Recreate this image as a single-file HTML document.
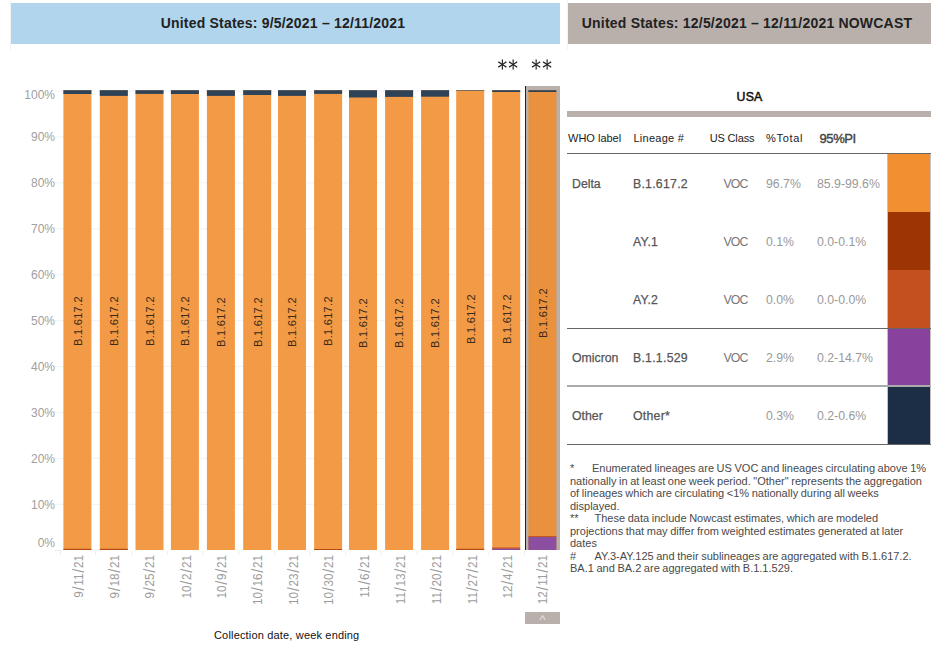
<!DOCTYPE html>
<html><head><meta charset="utf-8"><title>US Variant Proportions</title>
<style>
html,body{margin:0;padding:0;background:#fff;}
body{width:942px;height:646px;overflow:hidden;position:relative;font-family:"Liberation Sans",Arial,sans-serif;}
.a{position:absolute;}
.hdr{position:absolute;top:3px;height:41px;line-height:40px;text-align:center;font-weight:bold;font-size:14px;color:#222;white-space:nowrap;letter-spacing:0.2px;box-sizing:border-box;padding-right:5px;}
.grid{position:absolute;left:55px;width:505px;height:1px;background:#f0f0f0;}
.yl{position:absolute;width:40px;left:15px;text-align:right;font-size:12px;color:#a0a0a0;line-height:12px;}
.bar{position:absolute;width:28px;}
.ast{position:absolute;top:57px;font-family:"WenQuanYi Zen Hei","Liberation Sans",sans-serif;font-size:22px;line-height:22px;letter-spacing:-2.4px;color:#222;transform:scaleY(1.1);white-space:nowrap;}
.bl{position:absolute;white-space:nowrap;font-size:11px;letter-spacing:0.3px;color:#3a2a1a;transform:rotate(-90deg);transform-origin:0 0;line-height:12px;}
.xl{position:absolute;white-space:nowrap;font-size:13.5px;color:#9c9c9c;transform:rotate(-90deg) scaleX(0.87);transform-origin:100% 0;text-align:right;line-height:13px;}
.sl{font-size:17px;margin:0 0.75px;position:relative;top:1px;}
.tick{position:absolute;width:1px;height:5px;top:550px;background:#ececec;}
.th{position:absolute;top:131px;font-size:11px;color:#222;white-space:nowrap;line-height:14px;}
.td{position:absolute;font-size:12.3px;color:#555;white-space:nowrap;line-height:14px;}
.tl{position:absolute;left:567px;width:364px;height:1px;background:#666;}
.sw{position:absolute;left:888px;width:42px;height:58px;}
.fn{position:absolute;left:570px;top:462.3px;width:365px;font-size:11px;line-height:12.52px;color:#4a4a4a;word-spacing:-0.45px;white-space:nowrap;}
.mk{display:inline-block;}
</style></head><body>

<div class="a" style="left:10px;top:0;width:1px;height:50px;background:#f3f3f3"></div>
<div class="a" style="left:567px;top:0;width:1px;height:50px;background:#f3f3f3"></div>
<div class="hdr" style="left:11px;width:549px;background:#b0d5ec;">United States: 9/5/2021 &ndash; 12/11/2021</div>
<div class="hdr" style="left:568px;width:363px;background:#b9b0ab;">United States: 12/5/2021 &ndash; 12/11/2021 NOWCAST</div>
<div class="ast" style="left:495.7px;">**</div>
<div class="ast" style="left:529.6px;">**</div>
<div class="yl" style="top:536.5px">0%</div>
<div class="yl" style="top:498.7px">10%</div>
<div class="yl" style="top:452.8px">20%</div>
<div class="yl" style="top:406.9px">30%</div>
<div class="yl" style="top:361.0px">40%</div>
<div class="yl" style="top:315.1px">50%</div>
<div class="yl" style="top:269.1px">60%</div>
<div class="yl" style="top:223.2px">70%</div>
<div class="yl" style="top:177.3px">80%</div>
<div class="yl" style="top:131.4px">90%</div>
<div class="yl" style="top:88.6px">100%</div>
<svg class="a" style="left:0;top:0" width="942" height="646" viewBox="0 0 942 646"><rect x="55" y="503.79" width="505" height="1" fill="#f2f2f2"/><rect x="55" y="457.88" width="505" height="1" fill="#f2f2f2"/><rect x="55" y="411.97" width="505" height="1" fill="#f2f2f2"/><rect x="55" y="366.06" width="505" height="1" fill="#f2f2f2"/><rect x="55" y="320.15" width="505" height="1" fill="#f2f2f2"/><rect x="55" y="274.24" width="505" height="1" fill="#f2f2f2"/><rect x="55" y="228.33" width="505" height="1" fill="#f2f2f2"/><rect x="55" y="182.42" width="505" height="1" fill="#f2f2f2"/><rect x="55" y="136.51" width="505" height="1" fill="#f2f2f2"/><rect x="55" y="90.60" width="505" height="1" fill="#f2f2f2"/><rect x="55" y="550" width="6" height="1" fill="#ececec"/><rect x="60" y="550" width="1" height="5" fill="#ececec"/><rect x="526" y="86" width="34" height="464" fill="#b9b0ab"/><rect x="525" y="86" width="1" height="464" fill="#222"/><rect x="63.4" y="90.2" width="28.0" height="459.80" fill="#f29a45"/><rect x="63.4" y="90.2" width="28.0" height="3.80" fill="#2f4358"/><rect x="63.4" y="548.80" width="28.0" height="1.2" fill="#b5470f"/><rect x="99.8" y="90.2" width="28.0" height="459.80" fill="#f29a45"/><rect x="99.8" y="90.2" width="28.0" height="5.70" fill="#2f4358"/><rect x="99.8" y="548.80" width="28.0" height="1.2" fill="#b5470f"/><rect x="95.1" y="551" width="1" height="4" fill="#eeeeee"/><rect x="135.5" y="90.2" width="28.0" height="459.80" fill="#f29a45"/><rect x="135.5" y="90.2" width="28.0" height="3.70" fill="#2f4358"/><rect x="131.2" y="551" width="1" height="4" fill="#eeeeee"/><rect x="170.9" y="90.2" width="28.0" height="459.80" fill="#f29a45"/><rect x="170.9" y="90.2" width="28.0" height="3.80" fill="#2f4358"/><rect x="166.7" y="551" width="1" height="4" fill="#eeeeee"/><rect x="206.9" y="90.2" width="28.0" height="459.80" fill="#f29a45"/><rect x="206.9" y="90.2" width="28.0" height="5.70" fill="#2f4358"/><rect x="202.4" y="551" width="1" height="4" fill="#eeeeee"/><rect x="243.2" y="90.2" width="28.0" height="459.80" fill="#f29a45"/><rect x="243.2" y="90.2" width="28.0" height="4.80" fill="#2f4358"/><rect x="238.6" y="551" width="1" height="4" fill="#eeeeee"/><rect x="278.0" y="90.2" width="28.0" height="459.80" fill="#f29a45"/><rect x="278.0" y="90.2" width="28.0" height="5.70" fill="#2f4358"/><rect x="274.1" y="551" width="1" height="4" fill="#eeeeee"/><rect x="314.1" y="90.2" width="28.0" height="459.80" fill="#f29a45"/><rect x="314.1" y="90.2" width="28.0" height="3.70" fill="#2f4358"/><rect x="314.1" y="549.00" width="28.0" height="1.0" fill="#b5470f"/><rect x="309.6" y="551" width="1" height="4" fill="#eeeeee"/><rect x="349.0" y="90.2" width="28.0" height="459.80" fill="#f29a45"/><rect x="349.0" y="90.2" width="28.0" height="7.30" fill="#2f4358"/><rect x="345.1" y="551" width="1" height="4" fill="#eeeeee"/><rect x="385.1" y="90.2" width="28.0" height="459.80" fill="#f29a45"/><rect x="385.1" y="90.2" width="28.0" height="6.70" fill="#2f4358"/><rect x="380.6" y="551" width="1" height="4" fill="#eeeeee"/><rect x="421.1" y="90.2" width="28.0" height="459.80" fill="#f29a45"/><rect x="421.1" y="90.2" width="28.0" height="6.50" fill="#2f4358"/><rect x="416.6" y="551" width="1" height="4" fill="#eeeeee"/><rect x="456.2" y="90.2" width="28.0" height="459.80" fill="#f29a45"/><rect x="456.2" y="90.2" width="28.0" height="0.60" fill="#2f4358"/><rect x="456.2" y="548.80" width="28.0" height="1.2" fill="#b5470f"/><rect x="452.1" y="551" width="1" height="4" fill="#eeeeee"/><rect x="492.2" y="90.2" width="28.0" height="459.80" fill="#f29a45"/><rect x="492.2" y="90.2" width="28.0" height="1.80" fill="#2f4358"/><rect x="492.2" y="548.40" width="28.0" height="1.6" fill="#8b47a2"/><rect x="492.2" y="547.50" width="28.0" height="0.9" fill="#bd4c1a"/><rect x="487.7" y="551" width="1" height="4" fill="#eeeeee"/><rect x="528.4" y="90.2" width="28.0" height="459.80" fill="#ea913d"/><rect x="528.4" y="90.2" width="28.0" height="1.80" fill="#2f4358"/><rect x="528.4" y="537" width="28.0" height="13" fill="#8b4ea0"/><rect x="528.4" y="536" width="28.0" height="1" fill="#c4561f"/><rect x="524" y="551" width="1" height="4" fill="#eeeeee"/></svg>
<div class="bl" style="left:71.7px;top:345.5px">B.1.617.2</div>
<div class="xl" style="right:870.8px;top:554.9px;">9<span class="sl">/</span>11<span class="sl">/</span>21</div>
<div class="bl" style="left:108.1px;top:346.4px">B.1.617.2</div>
<div class="xl" style="right:835.3px;top:554.9px;">9<span class="sl">/</span>18<span class="sl">/</span>21</div>
<div class="bl" style="left:143.8px;top:346.1px">B.1.617.2</div>
<div class="xl" style="right:799.6px;top:554.9px;">9<span class="sl">/</span>25<span class="sl">/</span>21</div>
<div class="bl" style="left:179.2px;top:346.1px">B.1.617.2</div>
<div class="xl" style="right:763.3px;top:554.9px;">10<span class="sl">/</span>2<span class="sl">/</span>21</div>
<div class="bl" style="left:215.2px;top:347.1px">B.1.617.2</div>
<div class="xl" style="right:728.1px;top:554.9px;">10<span class="sl">/</span>9<span class="sl">/</span>21</div>
<div class="bl" style="left:251.5px;top:346.6px">B.1.617.2</div>
<div class="xl" style="right:692.1px;top:554.9px;">10<span class="sl">/</span>16<span class="sl">/</span>21</div>
<div class="bl" style="left:286.3px;top:347.1px">B.1.617.2</div>
<div class="xl" style="right:656.4px;top:554.9px;">10<span class="sl">/</span>23<span class="sl">/</span>21</div>
<div class="bl" style="left:322.4px;top:345.6px">B.1.617.2</div>
<div class="xl" style="right:621.3px;top:554.9px;">10<span class="sl">/</span>30<span class="sl">/</span>21</div>
<div class="bl" style="left:357.3px;top:347.9px">B.1.617.2</div>
<div class="xl" style="right:585.3px;top:554.9px;">11<span class="sl">/</span>6<span class="sl">/</span>21</div>
<div class="bl" style="left:393.4px;top:347.6px">B.1.617.2</div>
<div class="xl" style="right:549.2px;top:554.9px;">11<span class="sl">/</span>13<span class="sl">/</span>21</div>
<div class="bl" style="left:429.4px;top:347.5px">B.1.617.2</div>
<div class="xl" style="right:513.7px;top:554.9px;">11<span class="sl">/</span>20<span class="sl">/</span>21</div>
<div class="bl" style="left:464.5px;top:343.9px">B.1.617.2</div>
<div class="xl" style="right:477.8px;top:554.9px;">11<span class="sl">/</span>27<span class="sl">/</span>21</div>
<div class="bl" style="left:500.5px;top:343.9px">B.1.617.2</div>
<div class="xl" style="right:441.8px;top:554.9px;">12<span class="sl">/</span>4<span class="sl">/</span>21</div>
<div class="bl" style="left:536.7px;top:338.1px">B.1.617.2</div>
<div class="xl" style="right:407.0px;top:554.9px;">12<span class="sl">/</span>11<span class="sl">/</span>21</div>
<div class="a" style="left:214px;top:628px;font-size:11px;color:#111;white-space:nowrap;line-height:14px;letter-spacing:0.17px;">Collection date, week ending</div>
<div class="a" style="left:525px;top:612px;width:35px;height:12px;background:#b9b0ab;color:#e6e2e0;font-size:13px;line-height:15px;text-align:center;overflow:hidden;">^</div>
<div class="a" style="left:736.6px;top:90.2px;font-size:12.3px;color:#111;line-height:14px;-webkit-text-stroke:0.5px #111;letter-spacing:0.2px;">USA</div>
<div class="a" style="left:567px;top:111px;width:364px;height:6px;background:#b9b0ab"></div>
<div class="th" style="left:568px">WHO label</div>
<div class="th" style="left:633.5px;letter-spacing:0.25px">Lineage #</div>
<div class="th" style="left:709.7px;letter-spacing:-0.15px">US Class</div>
<div class="th" style="left:766px;letter-spacing:0.7px">%Total</div>
<div class="th" style="left:819.5px;font-size:13px;color:#444;top:131.9px;-webkit-text-stroke:0.4px #444;letter-spacing:-0.4px">95%PI</div>
<div class="tl" style="top:153px;"></div>
<div class="a" style="left:887px;top:154px;width:44px;height:290px;background:#c4c0bf"></div>
<div class="sw" style="top:154px;background:#f28f30"></div>
<div class="sw" style="top:212px;background:#9c3503"></div>
<div class="sw" style="top:270px;background:#c4501f"></div>
<div class="sw" style="top:328px;background:#88419d"></div>
<div class="sw" style="top:386px;background:#1b2e45"></div>
<div class="td" style="left:572px;top:176.5px;-webkit-text-stroke:0.25px #555">Delta</div>
<div class="td" style="left:633px;top:176.5px;letter-spacing:0.25px;-webkit-text-stroke:0.25px #555">B.1.617.2</div>
<div class="td" style="left:723.5px;top:176.5px;color:#777;letter-spacing:-0.9px">VOC</div>
<div class="td" style="left:766px;top:176.5px;color:#999;">96.7%</div>
<div class="td" style="left:817px;top:176.5px;color:#999;">85.9-99.6%</div>
<div class="td" style="left:633px;top:234.5px;letter-spacing:0.25px;-webkit-text-stroke:0.25px #555">AY.1</div>
<div class="td" style="left:723.5px;top:234.5px;color:#777;letter-spacing:-0.9px">VOC</div>
<div class="td" style="left:766px;top:234.5px;color:#999;">0.1%</div>
<div class="td" style="left:817px;top:234.5px;color:#999;">0.0-0.1%</div>
<div class="td" style="left:633px;top:292.5px;letter-spacing:0.25px;-webkit-text-stroke:0.25px #555">AY.2</div>
<div class="td" style="left:723.5px;top:292.5px;color:#777;letter-spacing:-0.9px">VOC</div>
<div class="td" style="left:766px;top:292.5px;color:#999;">0.0%</div>
<div class="td" style="left:817px;top:292.5px;color:#999;">0.0-0.0%</div>
<div class="td" style="left:572px;top:350.5px;-webkit-text-stroke:0.25px #555">Omicron</div>
<div class="td" style="left:633px;top:350.5px;letter-spacing:0.25px;-webkit-text-stroke:0.25px #555">B.1.1.529</div>
<div class="td" style="left:723.5px;top:350.5px;color:#777;letter-spacing:-0.9px">VOC</div>
<div class="td" style="left:766px;top:350.5px;color:#999;">2.9%</div>
<div class="td" style="left:817px;top:350.5px;color:#999;">0.2-14.7%</div>
<div class="td" style="left:572px;top:408.5px;-webkit-text-stroke:0.25px #555">Other</div>
<div class="td" style="left:633px;top:408.5px;letter-spacing:0.25px;-webkit-text-stroke:0.25px #555">Other*</div>
<div class="td" style="left:766px;top:408.5px;color:#999;">0.3%</div>
<div class="td" style="left:817px;top:408.5px;color:#999;">0.2-0.6%</div>
<div class="tl" style="top:328px"></div>
<div class="tl" style="top:385px;height:2px;background:#ababab"></div>
<div class="tl" style="top:444px"></div>
<div class="fn"><span class="mk" style="width:22px">*</span>Enumerated lineages are US VOC and lineages circulating above 1%<br>nationally in at least one week period. "Other" represents the aggregation<br>of lineages which are circulating &lt;1% nationally during all weeks<br>displayed.<br><span class="mk" style="width:24.5px">**</span>These data include Nowcast estimates, which are modeled<br>projections that may differ from weighted estimates generated at later<br>dates<br><span class="mk" style="width:24.5px">#</span>AY.3-AY.125 and their sublineages are aggregated with B.1.617.2.<br>BA.1 and BA.2 are aggregated with B.1.1.529.</div>
</body></html>
